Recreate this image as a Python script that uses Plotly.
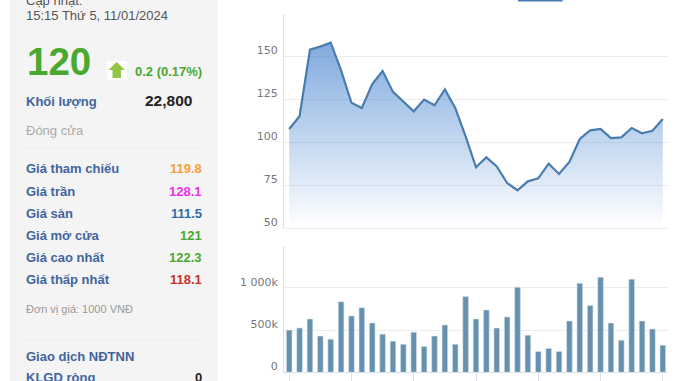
import plotly.graph_objects as go

W, H = 678, 381

sessions = list(range(37))
prices = [107.7, 115.1, 153.9, 155.7, 158.0, 141.9, 123.0, 119.9, 133.9, 141.5, 129.3, 123.8, 118.0,
          124.8, 121.5, 130.8, 119.9, 103.4, 85.4, 91.2, 85.9, 76.2, 72.0, 77.2, 78.9, 87.5, 81.5,
          88.5, 101.9, 106.9, 107.7, 102.4, 102.8, 108.3, 105.2, 106.7, 113.5]
volumes = [500, 524, 631, 429, 393, 837, 667, 766, 583, 452, 369, 333, 476, 306, 429, 560, 333,
           897, 631, 738, 524, 655, 1008, 440, 246, 282, 246, 607, 1055, 790, 1127, 583, 381, 1103,
           607, 512, 321]
volumes = [v * 1000 for v in volumes]

price_ticks = [50, 75, 100, 125, 150, 175]
price_labels = ["50", "75", "100", "125", "150", ""]
volume_ticks = [0, 500000, 1000000, 1500000]
volume_labels = ["0", "500k", "1 000k", ""]
session_ticks = [0, 6, 12, 18, 24, 30, 36]

row_names = ["Giá tham chiếu", "Giá trần", "Giá sàn", "Giá mở cửa", "Giá cao nhất", "Giá thấp nhất"]
row_values = ["119.8", "128.1", "111.5", "121", "122.3", "118.1"]
row_colors = ["#f7a13c", "#ee2ff0", "#2e6da4", "#4aa82f", "#4aa82f", "#c8302a"]
row_y = [169, 191, 213, 235, 257, 279]

BLUE = "#3f659f"
FONT = "Liberation Sans"


def px(x):
    return x / W


def py(y):
    return 1 - y / H


def text(x, y, s, size, color, anchor="left", bold=False):
    return dict(x=px(x), y=py(y), xref="paper", yref="paper", text=f"<b>{s}</b>" if bold else s,
                showarrow=False, xanchor=anchor, yanchor="middle", align=anchor,
                font=dict(family=FONT, size=size, color=color), borderpad=0, borderwidth=0)


fig = go.Figure()
fig.add_trace(go.Scatter(
    x=sessions, y=prices, mode="lines", xaxis="x", yaxis="y",
    line=dict(color="#4a7dae", width=2.2),
    fill="tozeroy",
    fillgradient=dict(type="vertical", start=50, stop=158,
                      colorscale=[[0, "rgba(60,125,205,0.0)"], [1, "rgba(60,125,205,0.65)"]]),
    hoverinfo="skip",
))
fig.add_trace(go.Bar(
    x=sessions, y=volumes, xaxis="x2", yaxis="y2",
    marker=dict(color="#6590ae", line=dict(color="#d5e0ea", width=0.6)),
    hoverinfo="skip",
))

axis_font = dict(family="DejaVu Sans", size=11, color="#777777")
grid = "#ebedf1"
annotations = [
    text(26, 1, "Cập nhật:", 13, "#555555"),
    text(26, 15, "15:15 Thứ 5, 11/01/2024", 13, "#555555"),
    text(27, 61, "120", 38.5, "#4aa82f", bold=True),
    text(202, 71, "0.2 (0.17%)", 13, "#4aa82f", "right", True),
    text(26, 102, "Khối lượng", 13, BLUE, bold=True),
    text(192, 100, "22,800", 15.5, "#222222", "right", True),
    text(26, 130, "Đóng cửa", 13, "#aaaaaa"),
    text(26, 309, "Đơn vị giá: 1000 VNĐ", 11, "#999999"),
    text(26, 356, "Giao dịch NĐTNN", 13, BLUE, bold=True),
    text(26, 377, "KLGD ròng", 13, BLUE, bold=True),
    text(202, 377, "0", 13, "#222222", "right", True),
]
for name, value, color, y in zip(row_names, row_values, row_colors, row_y):
    annotations.append(text(26, y, name, 13, BLUE, bold=True))
    annotations.append(text(202, y, value, 13, color, "right", True))

shapes = [
    dict(type="rect", xref="paper", yref="paper", x0=px(10), x1=px(217.5), y0=0, y1=1,
         fillcolor="#f4f4f4", line_width=0, layer="below"),
    dict(type="line", xref="paper", yref="paper", x0=px(26), x1=px(202), y0=py(148.5), y1=py(148.5),
         line=dict(color="#ececec", width=1), layer="below"),
    dict(type="line", xref="paper", yref="paper", x0=px(26), x1=px(202), y0=py(340), y1=py(340),
         line=dict(color="#ececec", width=1), layer="below"),
    dict(type="rect", xref="paper", yref="paper", x0=px(107), x1=px(127), y0=py(80), y1=py(61),
         fillcolor="#ffffff", line_width=0, layer="below"),
    dict(type="path", xref="paper", yref="paper",
         path=f"M {px(116.7)} {py(62)} L {px(125)} {py(70)} L {px(121)} {py(70)} L {px(121)} {py(78)} "
              f"L {px(112.5)} {py(78)} L {px(112.5)} {py(70)} L {px(108.5)} {py(70)} Z",
         fillcolor="#93c545", line_width=0),
    dict(type="rect", xref="paper", yref="paper", x0=px(518), x1=px(562.7), y0=py(1.6), y1=1,
         fillcolor="#4a7db5", line_width=0),
]

fig.update_layout(
    width=W, height=H, autosize=False,
    margin=dict(l=0, r=0, t=0, b=0),
    paper_bgcolor="#ffffff", plot_bgcolor="rgba(0,0,0,0)",
    showlegend=False, bargap=0.46,
    annotations=annotations, shapes=shapes,
    xaxis=dict(domain=[px(284), px(668)], range=[-0.5, 36.5], anchor="y", showticklabels=False,
               showgrid=False, zeroline=False, ticks="", showline=True, linecolor=grid, linewidth=1),
    yaxis=dict(domain=[py(228), py(13.5)], range=[50, 175], tickvals=price_ticks, ticktext=price_labels,
               tickfont=axis_font, ticks="", ticklabelshift=-6, ticklabelstandoff=3,
               showgrid=True, gridcolor=grid, gridwidth=1, zeroline=False,
               showline=True, linecolor="#d8dfee", linewidth=1, anchor="x"),
    xaxis2=dict(domain=[px(284), px(668)], range=[-0.5, 36.5], anchor="y2", tickvals=session_ticks,
                showticklabels=False, showgrid=False, zeroline=False, ticks="outside", ticklen=9,
                tickcolor="#d8dfee", tickwidth=1, showline=True, linecolor="#d8dfee", linewidth=1),
    yaxis2=dict(domain=[py(372.3), py(245.7)], range=[0, 1500000], tickvals=volume_ticks,
                ticktext=volume_labels, tickfont=axis_font, ticks="", ticklabelshift=-6,
                ticklabelstandoff=3, showgrid=True, gridcolor=grid, gridwidth=1, zeroline=False,
                showline=True, linecolor="#d8dfee", linewidth=1, anchor="x2"),
)

fig.write_html("out.html", config={"displayModeBar": False},
               post_script="document.body.style.margin='0';document.body.style.overflow='hidden';")
